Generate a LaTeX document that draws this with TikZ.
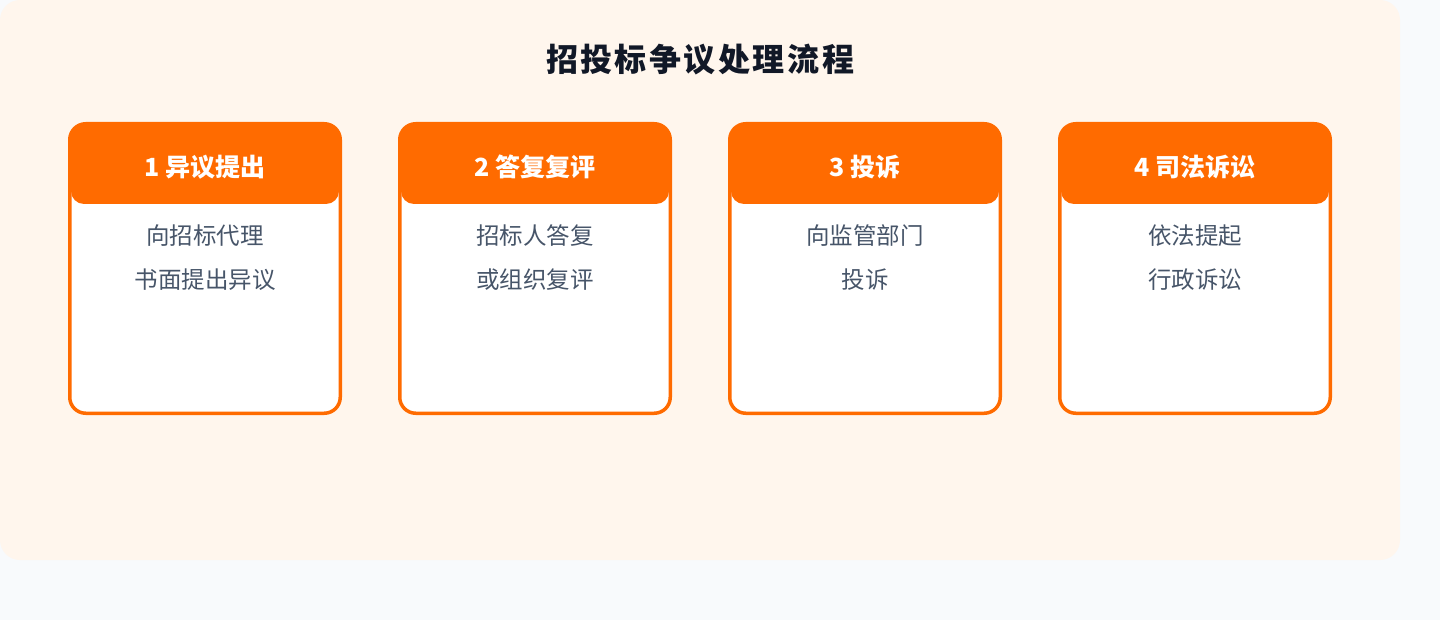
\documentclass[tikz,border=0pt]{standalone}
\usepackage{fontspec}
\setmainfont{Noto Sans CJK SC}
\definecolor{pagebg}{HTML}{F8FAFC}
\definecolor{creambg}{HTML}{FFF6ED}
\definecolor{orangemain}{HTML}{FF6B00}
\definecolor{titlecol}{HTML}{111827}
\definecolor{bodycol}{HTML}{475569}
\tikzset{
  cardfill/.style={fill=white, rounded corners=16pt},
  cardline/.style={draw=orangemain, line width=3.5pt, rounded corners=16pt},
  headbox/.style={fill=orangemain, rounded corners=13pt},
  headtext/.style={text=white, font=\fontsize{25}{28}\selectfont\bfseries, inner sep=0pt},
  bodytext/.style={text=bodycol, font=\fontsize{23.5}{28}\selectfont, inner sep=0pt},
  titletext/.style={text=titlecol, font=\fontsize{32}{36}\selectfont\bfseries, inner sep=0pt}
}
\begin{document}
\begin{tikzpicture}[x=1pt,y=-1pt]
\useasboundingbox (0,0) rectangle (1440,620);
\fill[pagebg] (0,0) rectangle (1440,620);
\fill[creambg, rounded corners=20pt] (0,0) rectangle (1400,560);
\node[titletext] (title) at (700,60) {招\kern2.5pt 投\kern2.5pt 标\kern2.5pt 争\kern2.5pt 议\kern2.5pt 处\kern2.5pt 理\kern2.5pt 流\kern2.5pt 程};
\foreach \i/\head/\la/\lb in {0/1 异议提出/向招标代理/书面提出异议, 1/2 答复复评/招标人答复/或组织复评, 2/3 投诉/向监管部门/投诉, 3/4 司法诉讼/依法提起/行政诉讼}{
  \pgfmathsetmacro{\xl}{68+330*\i}
  \fill[cardfill] (\xl+1.75,123.75) rectangle (\xl+272.25,413.25);
  \fill[headbox] (\xl+3,124.5) rectangle (\xl+271,204);
  \draw[cardline] (\xl+1.75,123.75) rectangle (\xl+272.25,413.25);
  \node[headtext] (head\i) at (\xl+137,167) {\head};
  \node[bodytext] (bodya\i) at (\xl+137,236) {\la};
  \node[bodytext] (bodyb\i) at (\xl+137,280) {\lb};
}
\end{tikzpicture}
\end{document}
